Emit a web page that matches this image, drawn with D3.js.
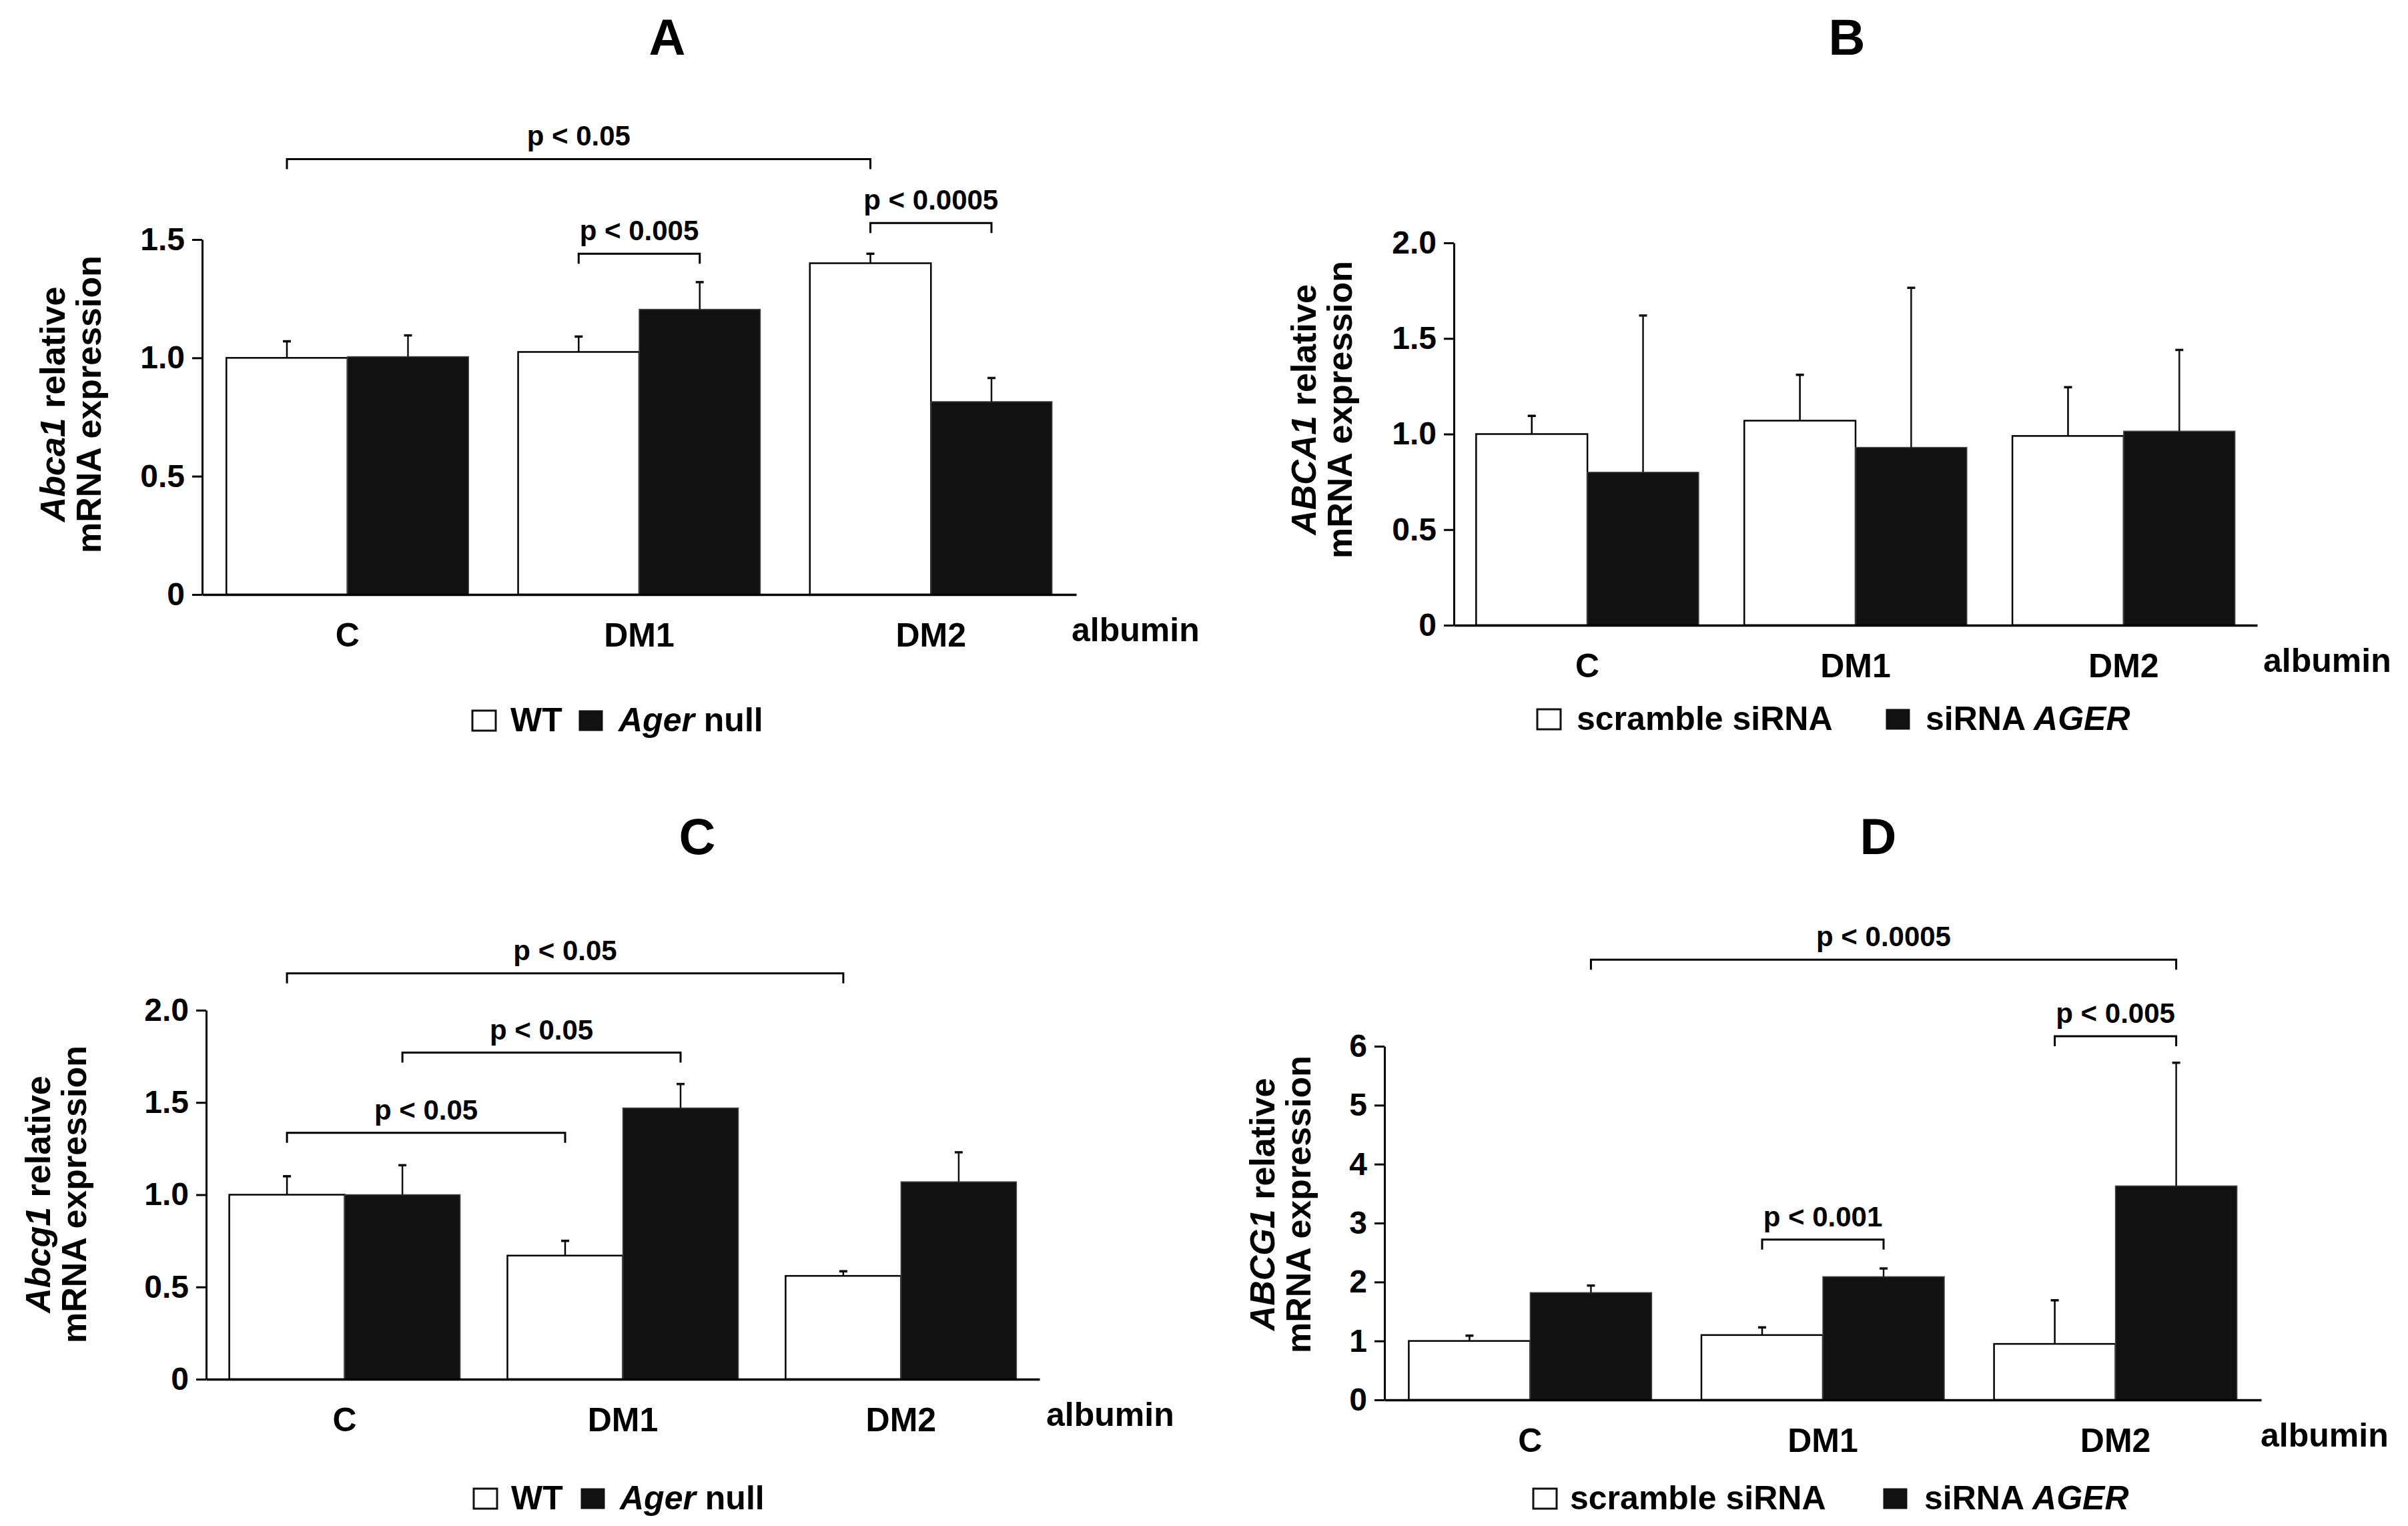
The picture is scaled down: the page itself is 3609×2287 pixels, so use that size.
<!DOCTYPE html>
<html>
<head>
<meta charset="utf-8">
<script src="https://cdn.jsdelivr.net/npm/d3@7"></script>
<style>
  body { margin: 0; background: #fff; }
  svg { display: block; }
  text { font-family: "Liberation Sans", Arial, sans-serif; font-weight: bold; fill: #000; }
</style>
</head>
<body>
<div id="chart"></div>
<script>
// data
var categories = ["C", "DM1", "DM2"];

// panel A - Abca1, mouse
var aWT = [1.00, 1.025, 1.40];
var aWTsd = [0.07, 0.065, 0.04];
var aNull = [1.005, 1.205, 0.815];
var aNullSd = [0.09, 0.115, 0.10];
var aTicks = [0, 0.5, 1, 1.5];
var aTickLabels = ["0", "0.5", "1.0", "1.5"];

// panel B - ABCA1, siRNA
var bScr = [1.00, 1.07, 0.99];
var bScrSd = [0.095, 0.24, 0.255];
var bSi = [0.80, 0.93, 1.015];
var bSiSd = [0.82, 0.835, 0.425];
var bTicks = [0, 0.5, 1, 1.5, 2];
var bTickLabels = ["0", "0.5", "1.0", "1.5", "2.0"];

// panel C - Abcg1, mouse
var cWT = [1.00, 0.67, 0.56];
var cWTsd = [0.10, 0.08, 0.025];
var cNull = [1.00, 1.47, 1.07];
var cNullSd = [0.16, 0.13, 0.16];
var cTicks = [0, 0.5, 1, 1.5, 2];
var cTickLabels = ["0", "0.5", "1.0", "1.5", "2.0"];

// panel D - ABCG1, siRNA
var dScr = [1.00, 1.10, 0.95];
var dScrSd = [0.09, 0.13, 0.74];
var dSi = [1.82, 2.09, 3.63];
var dSiSd = [0.12, 0.14, 2.09];
var dTicks = [0, 1, 2, 3, 4, 5, 6];
var dTickLabels = ["0", "1", "2", "3", "4", "5", "6"];

// significance brackets: [category, series] -> [category, series], level, text
var aBrackets = [
  {from: [0, 0], to: [2, 0], level: 1.84, text: "p < 0.05"},
  {from: [1, 0], to: [1, 1], level: 1.44, text: "p < 0.005"},
  {from: [2, 0], to: [2, 1], level: 1.57, text: "p < 0.0005"}
];
var bBrackets = [];
var cBrackets = [
  {from: [0, 0], to: [2, 0], level: 2.20, text: "p < 0.05"},
  {from: [0, 1], to: [1, 1], level: 1.77, text: "p < 0.05"},
  {from: [0, 0], to: [1, 0], level: 1.335, text: "p < 0.05"}
];
var dBrackets = [
  {from: [0, 1], to: [2, 1], level: 7.47, text: "p < 0.0005"},
  {from: [2, 0], to: [2, 1], level: 6.17, text: "p < 0.005"},
  {from: [1, 0], to: [1, 1], level: 2.72, text: "p < 0.001"}
];

var mouseLegend = [["WT", ""], ["", "Ager", " null"]];
var cellLegend = [["scramble siRNA", ""], ["siRNA ", "AGER", ""]];

var svgWidth = 3609;
var svgHeight = 2287;

var svg = d3.select("#chart")
  .append("svg")
  .attr("width", svgWidth)
  .attr("height", svgHeight);

svg.append("rect").attr("width", svgWidth).attr("height", svgHeight).attr("fill", "#fff");

var panels = [
  {
    letter: "A", gene: "Abca1", means: [aWT, aNull], sds: [aWTsd, aNullSd],
    ticks: aTicks, tickLabels: aTickLabels, brackets: aBrackets, legend: mouseLegend,
    box: {x0: 303, x1: 1613, y0: 891, y1: 359},
    titleX: 1000, titleY: 82, yTitleX: 97, yTitleY: 606, albX: 1606,
    legendX: [708, 765, 868, 927], legendY: 1096
  },
  {
    letter: "B", gene: "ABCA1", means: [bScr, bSi], sds: [bScrSd, bSiSd],
    ticks: bTicks, tickLabels: bTickLabels, brackets: bBrackets, legend: cellLegend,
    box: {x0: 2179, x1: 3383, y0: 937, y1: 364},
    titleX: 2768, titleY: 82, yTitleX: 1972, yTitleY: 614, albX: 3392,
    legendX: [2304, 2363, 2827, 2886], legendY: 1094
  },
  {
    letter: "C", gene: "Abcg1", means: [cWT, cNull], sds: [cWTsd, cNullSd],
    ticks: cTicks, tickLabels: cTickLabels, brackets: cBrackets, legend: mouseLegend,
    box: {x0: 309, x1: 1558, y0: 2067, y1: 1514},
    titleX: 1045, titleY: 1280, yTitleX: 75, yTitleY: 1790, albX: 1568,
    legendX: [710, 766, 871, 929], legendY: 2262
  },
  {
    letter: "D", gene: "ABCG1", means: [dScr, dSi], sds: [dScrSd, dSiSd],
    ticks: dTicks, tickLabels: dTickLabels, brackets: dBrackets, legend: cellLegend,
    box: {x0: 2075, x1: 3389, y0: 2098, y1: 1568},
    titleX: 2815, titleY: 1280, yTitleX: 1910, yTitleY: 1805, albX: 3388,
    legendX: [2298, 2353, 2823, 2884], legendY: 2262
  }
];

panels.forEach(function(p) {
  var g = svg.append("g");

  var x0 = d3.scaleBand()
    .domain(categories)
    .range([p.box.x0, p.box.x1])
    .paddingInner(0.17)
    .paddingOuter(0.083);

  var x1 = d3.scaleBand()
    .domain([0, 1])
    .range([0, x0.bandwidth()]);

  var y = d3.scaleLinear()
    .domain([0, d3.max(p.ticks)])
    .range([p.box.y0, p.box.y1]);

  // y axis
  var leftAxis = d3.axisLeft(y)
    .tickValues(p.ticks)
    .tickFormat(function(d, i) { return p.tickLabels[i]; })
    .tickSize(15)
    .tickSizeOuter(0)
    .tickPadding(11);

  var yAxis = g.append("g")
    .attr("transform", `translate(${p.box.x0}, 0)`)
    .call(leftAxis);
  yAxis.selectAll("path, line").attr("stroke", "#000").attr("stroke-width", 3);
  yAxis.selectAll("text")
    .style("font-size", "48px")
    .style("font-family", "'Liberation Sans', Arial, sans-serif")
    .style("font-weight", "bold");

  // bars
  p.means.forEach(function(series, s) {
    g.append("g")
      .selectAll("rect")
      .data(series)
      .enter()
      .append("rect")
      .attr("x", (d, i) => x0(categories[i]) + x1(s))
      .attr("y", d => y(d))
      .attr("width", x1.bandwidth())
      .attr("height", d => y(0) - y(d))
      .attr("fill", s === 0 ? "#fff" : "#111")
      .attr("stroke", s === 0 ? "#000" : "#444")
      .attr("stroke-width", s === 0 ? 2.5 : 1.5);

    // error bars (upper only)
    var err = g.append("g").attr("stroke", s === 0 ? "#000" : "#111").attr("stroke-width", 2.5);
    err.selectAll("line.v")
      .data(series)
      .enter()
      .append("line")
      .attr("x1", (d, i) => x0(categories[i]) + x1(s) + x1.bandwidth() / 2)
      .attr("x2", (d, i) => x0(categories[i]) + x1(s) + x1.bandwidth() / 2)
      .attr("y1", d => y(d))
      .attr("y2", (d, i) => y(d + p.sds[s][i]));
    err.selectAll("line.cap")
      .data(series)
      .enter()
      .append("line")
      .attr("x1", (d, i) => x0(categories[i]) + x1(s) + x1.bandwidth() / 2 - 6)
      .attr("x2", (d, i) => x0(categories[i]) + x1(s) + x1.bandwidth() / 2 + 6)
      .attr("y1", (d, i) => y(d + p.sds[s][i]))
      .attr("y2", (d, i) => y(d + p.sds[s][i]))
      .attr("stroke-width", 3.5);
  });

  // x axis on top of bars
  var bottomAxis = d3.axisBottom(x0).tickSize(0).tickPadding(42);
  var xAxis = g.append("g")
    .attr("transform", `translate(0, ${p.box.y0})`)
    .call(bottomAxis);
  xAxis.select("path").attr("stroke", "#000").attr("stroke-width", 3.5);
  xAxis.selectAll("text")
    .style("font-size", "50px")
    .style("font-family", "'Liberation Sans', Arial, sans-serif")
    .style("font-weight", "bold");

  g.append("text")
    .attr("x", p.albX)
    .attr("y", p.box.y0 + 70)
    .style("font-size", "50px")
    .text("albumin");

  // significance brackets
  function barCenter(ref) {
    return x0(categories[ref[0]]) + x1(ref[1]) + x1.bandwidth() / 2;
  }
  p.brackets.forEach(function(b) {
    var xa = barCenter(b.from), xb = barCenter(b.to), yl = y(b.level);
    g.append("path")
      .attr("d", `M${xa},${yl + 15}V${yl}H${xb}V${yl + 15}`)
      .attr("fill", "none")
      .attr("stroke", "#000")
      .attr("stroke-width", 3);
    g.append("text")
      .attr("x", (xa + xb) / 2)
      .attr("y", yl - 20)
      .attr("text-anchor", "middle")
      .style("font-size", "42px")
      .text(b.text);
  });

  // panel letter
  g.append("text")
    .attr("x", p.titleX)
    .attr("y", p.titleY)
    .attr("text-anchor", "middle")
    .style("font-size", "76px")
    .text(p.letter);

  // y axis title, two lines
  var yt = g.append("text")
    .attr("transform", `translate(${p.yTitleX}, ${p.yTitleY}) rotate(-90)`)
    .attr("text-anchor", "middle")
    .style("font-size", "52px");
  yt.append("tspan").attr("x", 0).attr("y", 0).style("font-style", "italic").text(p.gene);
  yt.append("tspan").text(" relative");
  yt.append("tspan").attr("x", 0).attr("y", 54).text("mRNA expression");

  // legend
  var lg = g.append("g");
  [0, 1].forEach(function(s) {
    lg.append("rect")
      .attr("x", p.legendX[s * 2])
      .attr("y", p.legendY - 31)
      .attr("width", 35)
      .attr("height", 30)
      .attr("fill", s === 0 ? "#fff" : "#111")
      .attr("stroke", "#111")
      .attr("stroke-width", s === 0 ? 3 : 1);
    var t = lg.append("text")
      .attr("x", p.legendX[s * 2 + 1])
      .attr("y", p.legendY)
      .style("font-size", "50px");
    var parts = p.legend[s];
    t.append("tspan").text(parts[0]);
    if (parts[1]) t.append("tspan").style("font-style", "italic").text(parts[1]);
    if (parts[2]) t.append("tspan").text(parts[2]);
  });
});
</script>
</body>
</html>
